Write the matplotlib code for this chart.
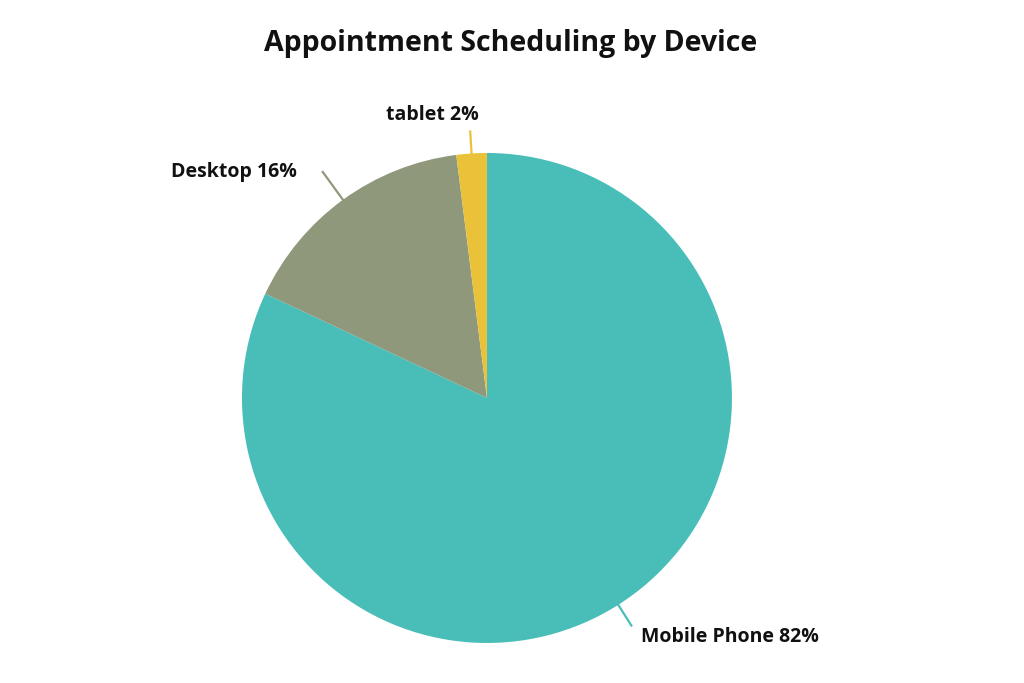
import numpy as np
import matplotlib
matplotlib.use("Agg")
import matplotlib.pyplot as plt

# data
devices = ["Mobile Phone", "Desktop", "tablet"]
shares = [82, 16, 2]
colors = ["#49BEB8", "#8F987A", "#E9C23A"]

plt.rcParams['font.family'] = ['Open Sans', 'DejaVu Sans']

fig = plt.figure(figsize=(10.24, 6.83), dpi=100)
fig.patch.set_facecolor("white")
ax = fig.add_axes([0.2363, 0.0586, 0.4785, 0.7174])

wedges, _ = ax.pie(shares, colors=colors, startangle=90, counterclock=False,
                   radius=1.0, wedgeprops=dict(linewidth=0))
ax.set_xlim(-1, 1)
ax.set_ylim(-1, 1)
ax.set_aspect("equal")
ax.axis("off")

# label placement (text anchor, ha, leader end radius)
text_pos = [(0.629, -0.975, "left"), (-0.776, 0.922, "right"), (-0.224, 1.155, "center")]
line_len = [1.10, 1.14, 1.09]

for w, name, val, col, (tx, ty, ha), r2 in zip(wedges, devices, shares, colors, text_pos, line_len):
    ang = np.deg2rad((w.theta1 + w.theta2) / 2)
    x1, y1 = np.cos(ang), np.sin(ang)
    ax.plot([x1, r2 * x1], [y1, r2 * y1], color=col, lw=1.6, clip_on=False)
    ax.text(tx, ty, f"{name} {val}%", ha=ha, va="center", fontsize=14,
            fontweight="bold", color="#111111", clip_on=False)

fig.text(0.4985, 0.937, "Appointment Scheduling by Device", ha="center", va="center",
         fontsize=20.5, fontweight="bold", color="#111111")

fig.savefig("out.png", dpi=100)
